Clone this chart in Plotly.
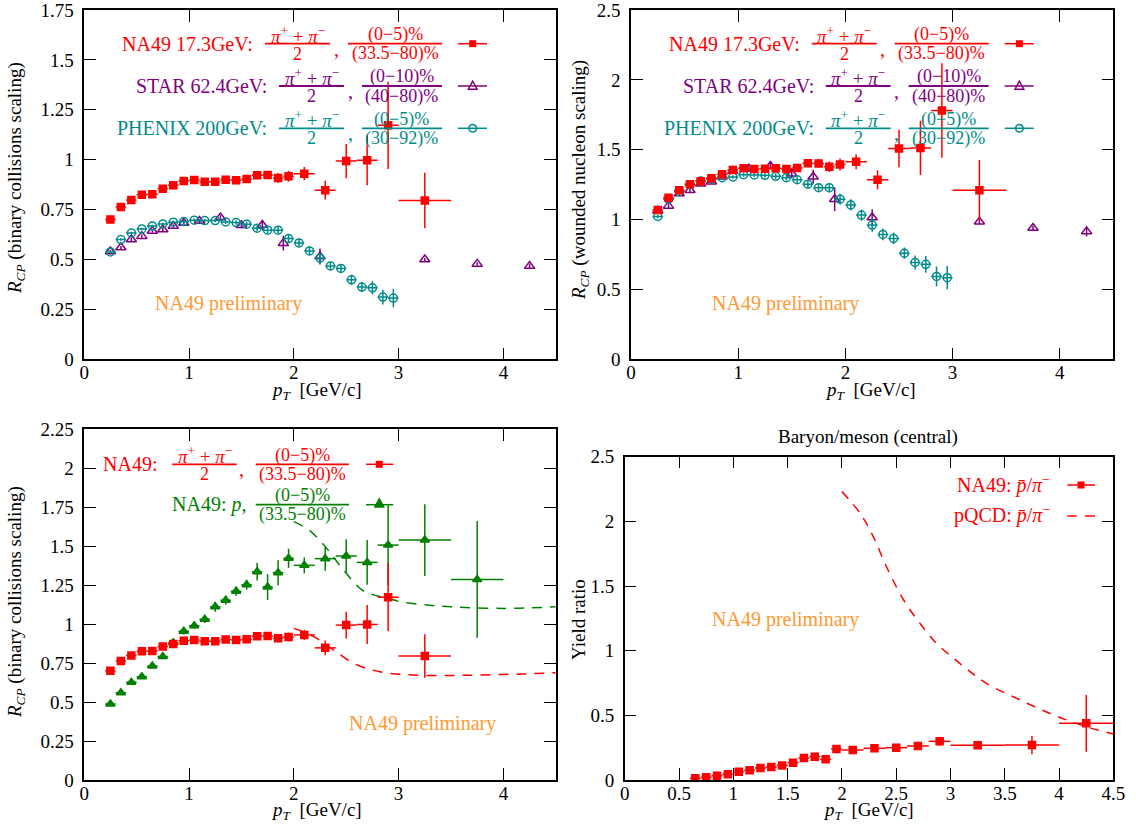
import plotly.graph_objects as go

W, H = 1136, 836
FONT = "Liberation Serif"
RED = "#ff0000"
PURPLE = "#800080"
TEAL = "#008b8b"
GREEN = "#008000"
ORANGE = "#ff9933"

# ---------------- data ----------------
# NA49 17.3 GeV charged pions
na49_pt = [0.25, 0.35, 0.45, 0.55, 0.65, 0.75, 0.85, 0.95, 1.05, 1.15, 1.25, 1.35,
           1.45, 1.55, 1.65, 1.75, 1.85, 1.95, 2.1, 2.3, 2.5, 2.7, 2.9, 3.25]
na49_pt_halfwidth = [0.05, 0.05, 0.05, 0.05, 0.05, 0.05, 0.05, 0.05, 0.05, 0.05, 0.05, 0.05,
                     0.05, 0.05, 0.05, 0.05, 0.05, 0.05, 0.1, 0.1, 0.1, 0.1, 0.1, 0.25]
na49_binary = [0.70, 0.763, 0.798, 0.825, 0.827, 0.855, 0.872, 0.893, 0.898, 0.89, 0.89, 0.90,
               0.897, 0.903, 0.922, 0.923, 0.908, 0.917, 0.93, 0.847, 0.993, 0.997, 1.172, 0.795]
na49_binary_err = [0.01, 0.01, 0.01, 0.01, 0.01, 0.01, 0.01, 0.012, 0.012, 0.012, 0.012, 0.012,
                   0.012, 0.015, 0.02, 0.02, 0.025, 0.028, 0.033, 0.047, 0.086, 0.125, 0.219, 0.139]
na49_wounded = [1.068, 1.157, 1.210, 1.253, 1.274, 1.295, 1.324, 1.354, 1.367, 1.362, 1.364, 1.367,
                1.362, 1.369, 1.404, 1.402, 1.378, 1.395, 1.414, 1.285, 1.509, 1.513, 1.781, 1.210]
na49_wounded_err = [0.015, 0.015, 0.015, 0.015, 0.015, 0.015, 0.015, 0.018, 0.018, 0.018, 0.018, 0.018,
                    0.018, 0.022, 0.03, 0.03, 0.038, 0.043, 0.054, 0.068, 0.134, 0.194, 0.338, 0.216]

# STAR 62.4 GeV
star_pt = [0.25, 0.35, 0.45, 0.55, 0.65, 0.75, 0.85, 0.95, 1.1, 1.3, 1.5, 1.7, 1.9, 2.25, 3.25, 3.75, 4.25]
star_binary = [0.54, 0.56, 0.60, 0.617, 0.643, 0.65, 0.668, 0.683, 0.693, 0.71, 0.672, 0.673,
               0.582, 0.515, 0.50, 0.478, 0.467]
star_binary_err = [0.008, 0.008, 0.008, 0.008, 0.008, 0.008, 0.008, 0.008, 0.01, 0.012, 0.015, 0.025,
                   0.037, 0.04, 0.008, 0.008, 0.012]
star_wounded = [1.063, 1.098, 1.186, 1.210, 1.257, 1.271, 1.307, 1.347, 1.364, 1.383, 1.328, 1.307,
                1.146, 1.015, 0.984, 0.940, 0.915]
star_wounded_err = [0.016, 0.016, 0.016, 0.016, 0.016, 0.016, 0.016, 0.016, 0.02, 0.024, 0.03, 0.05,
                    0.084, 0.059, 0.015, 0.015, 0.036]

# PHENIX 200 GeV
phenix_pt = [0.25, 0.35, 0.45, 0.55, 0.65, 0.75, 0.85, 0.95, 1.05, 1.15, 1.25, 1.35, 1.45, 1.55,
             1.65, 1.75, 1.85, 1.95, 2.05, 2.15, 2.25, 2.35, 2.45, 2.55, 2.65, 2.75, 2.85, 2.95]
phenix_pt_halfwidth = [0.05, 0.05, 0.05, 0.05, 0.05, 0.05, 0.05, 0.05, 0.05, 0.05, 0.05, 0.05, 0.05, 0.05,
                       0.05, 0.05, 0.05, 0.05, 0.05, 0.05, 0.05, 0.05, 0.05, 0.05, 0.05, 0.05, 0.05, 0.05]
phenix_binary = [0.538, 0.60, 0.633, 0.653, 0.668, 0.678, 0.687, 0.69, 0.697, 0.695, 0.695, 0.688, 0.685,
                 0.677, 0.657, 0.647, 0.647, 0.605, 0.583, 0.543, 0.507, 0.468, 0.455, 0.398, 0.362,
                 0.358, 0.312, 0.307]
phenix_binary_err = [0.006, 0.006, 0.006, 0.006, 0.006, 0.006, 0.007, 0.007, 0.008, 0.008, 0.009, 0.010,
                     0.011, 0.012, 0.014, 0.015, 0.017, 0.02, 0.021, 0.021, 0.025, 0.022, 0.022, 0.025,
                     0.025, 0.033, 0.037, 0.046]
phenix_wounded = [1.022, 1.146, 1.200, 1.250, 1.276, 1.290, 1.300, 1.305, 1.321, 1.319, 1.317, 1.310,
                  1.300, 1.285, 1.253, 1.228, 1.228, 1.146, 1.105, 1.032, 0.961, 0.894, 0.865, 0.759,
                  0.693, 0.680, 0.593, 0.584]
phenix_wounded_err = [0.012, 0.012, 0.012, 0.012, 0.012, 0.012, 0.013, 0.013, 0.015, 0.015, 0.017, 0.019,
                      0.021, 0.023, 0.027, 0.029, 0.033, 0.038, 0.04, 0.04, 0.048, 0.042, 0.042, 0.042,
                      0.05, 0.06, 0.071, 0.083]

# NA49 protons (binary scaling)
proton_pt = [0.25, 0.35, 0.45, 0.55, 0.65, 0.75, 0.85, 0.95, 1.05, 1.15, 1.25, 1.35, 1.45,
             1.55, 1.65, 1.75, 1.85, 1.95, 2.1, 2.3, 2.5, 2.7, 2.9, 3.25, 3.75]
proton_pt_halfwidth = [0.05, 0.05, 0.05, 0.05, 0.05, 0.05, 0.05, 0.05, 0.05, 0.05, 0.05, 0.05, 0.05,
                       0.05, 0.05, 0.05, 0.05, 0.05, 0.1, 0.1, 0.1, 0.1, 0.1, 0.25, 0.25]
proton_rcp = [0.487, 0.56, 0.626, 0.662, 0.731, 0.791, 0.88, 0.953, 0.989, 1.03, 1.111, 1.152, 1.21,
              1.252, 1.335, 1.237, 1.329, 1.421, 1.376, 1.419, 1.436, 1.395, 1.506, 1.538, 1.286]
proton_rcp_err = [0.012, 0.012, 0.014, 0.015, 0.016, 0.017, 0.018, 0.02, 0.02, 0.024, 0.032, 0.029, 0.03,
                  0.032, 0.056, 0.083, 0.08, 0.061, 0.051, 0.077, 0.107, 0.144, 0.256, 0.23, 0.374]

# model curves (dashed) in the lower-left panel
curve_p_pt = [2.0, 2.15, 2.3, 2.4, 2.5, 2.65, 2.8, 2.9, 3.0, 3.27, 3.5, 4.0, 4.5]
curve_p_rcp = [1.656, 1.60, 1.496, 1.41, 1.325, 1.218, 1.18, 1.165, 1.145, 1.122, 1.11, 1.10, 1.11]
curve_pi_pt = [2.0, 2.19, 2.38, 2.57, 2.82, 3.14, 3.5, 3.78, 4.2, 4.5]
curve_pi_rcp = [0.972, 0.919, 0.833, 0.748, 0.694, 0.673, 0.67, 0.673, 0.68, 0.688]

# Baryon/meson: pbar/pi-
pbar_pt = [0.65, 0.75, 0.85, 0.95, 1.05, 1.15, 1.25, 1.35, 1.45, 1.55, 1.65, 1.75, 1.85, 1.95,
           2.1, 2.3, 2.5, 2.7, 2.9, 3.25, 3.75, 4.25]
pbar_pt_halfwidth = [0.05, 0.05, 0.05, 0.05, 0.05, 0.05, 0.05, 0.05, 0.05, 0.05, 0.05, 0.05, 0.05, 0.05,
                     0.1, 0.1, 0.1, 0.1, 0.1, 0.25, 0.25, 0.25]
pbar_ratio = [0.013, 0.021, 0.033, 0.044, 0.064, 0.075, 0.093, 0.10, 0.113, 0.134, 0.17, 0.18, 0.16,
              0.24, 0.232, 0.245, 0.25, 0.263, 0.299, 0.268, 0.27, 0.438]
pbar_ratio_err = [0.005, 0.005, 0.006, 0.006, 0.007, 0.008, 0.009, 0.01, 0.01, 0.012, 0.014, 0.015, 0.015,
                  0.015, 0.015, 0.015, 0.017, 0.02, 0.036, 0.03, 0.07, 0.219]
pqcd_pt = [2.0, 2.17, 2.29, 2.41, 2.57, 2.72, 2.87, 3.03, 3.18, 3.33, 3.64, 3.95, 4.25, 4.5]
pqcd_ratio = [2.23, 2.06, 1.88, 1.65, 1.39, 1.21, 1.057, 0.94, 0.838, 0.748, 0.619, 0.503, 0.412, 0.356]

# tick labels
ticks_pt1 = [0, 1, 2, 3, 4]
ticks_pt1_text = ["0", "1", "2", "3", "4"]
ticks_pt05 = [0, 0.5, 1, 1.5, 2, 2.5, 3, 3.5, 4, 4.5]
ticks_pt05_text = ["0", "0.5", "1", "1.5", "2", "2.5", "3", "3.5", "4", "4.5"]
ticks_q = [0, 0.25, 0.5, 0.75, 1, 1.25, 1.5, 1.75, 2, 2.25]
ticks_q_text = ["0", "0.25", "0.5", "0.75", "1", "1.25", "1.5", "1.75", "2", "2.25"]
ticks_h = [0, 0.5, 1, 1.5, 2, 2.5]
ticks_h_text = ["0", "0.5", "1", "1.5", "2", "2.5"]

# ---------------- helpers ----------------
def px(x):
    return x / W


def py(y):
    return 1 - y / H


annotations = []
shapes = []


def text(x, y, s, color, size, xanchor="center", yanchor="middle", angle=0):
    annotations.append(dict(x=px(x), y=py(y), xref="paper", yref="paper", text=s, showarrow=False,
                            font=dict(family=FONT, size=size, color=color), xanchor=xanchor,
                            yanchor=yanchor, textangle=angle, borderpad=0))


def hline(x0, x1, y, color, width=2.0, dash=None):
    ln = dict(color=color, width=width)
    if dash:
        ln["dash"] = dash
    shapes.append(dict(type="line", xref="paper", yref="paper", x0=px(x0), x1=px(x1),
                       y0=py(y), y1=py(y), line=ln))


def sq(cx, cy, s, color):
    shapes.append(dict(type="rect", xref="paper", yref="paper", x0=px(cx - s / 2), x1=px(cx + s / 2),
                       y0=py(cy + s / 2), y1=py(cy - s / 2), fillcolor=color, line=dict(width=0)))


def tri(cx, cy, s, color, filled):
    pts = [(cx, cy - s * 0.6), (cx - s * 0.55, cy + s * 0.4), (cx + s * 0.55, cy + s * 0.4)]
    path = "M {} {} L {} {} L {} {} Z".format(*[v for p in pts for v in (px(p[0]), py(p[1]))])
    shapes.append(dict(type="path", xref="paper", yref="paper", path=path,
                       fillcolor=color if filled else "rgba(0,0,0,0)", line=dict(color=color, width=1.5)))


def circ(cx, cy, r, color):
    shapes.append(dict(type="circle", xref="paper", yref="paper", x0=px(cx - r), x1=px(cx + r),
                       y0=py(cy + r), y1=py(cy - r), line=dict(color=color, width=1.5),
                       fillcolor="rgba(0,0,0,0)"))


def frac(x0, x1, y, num, den, color, size=18, num_size=None):
    hline(x0, x1, y, color, 1.8)
    cx = (x0 + x1) / 2
    text(cx, y - 9, num, color, num_size or size)
    text(cx, y + 10, den, color, size)


PIPI = "<i>π</i><sup>+</sup>\u2005+\u2005<i>π</i><sup>−</sup>"

# ---------------- figure ----------------
fig = go.Figure()


def err_trace(x, y, ex, ey, color, symbol, size, xa, ya):
    tr = go.Scatter(x=x, y=y, mode="markers", xaxis=xa, yaxis=ya, showlegend=False,
                    marker=dict(symbol=symbol, size=size, color=color, line=dict(color=color, width=1.5)),
                    error_y=dict(type="data", array=ey, visible=True, color=color, thickness=1.5, width=0))
    if ex is not None:
        tr.error_x = dict(type="data", array=ex, visible=True, color=color, thickness=1.5, width=0)
    return tr


# panel 1 : binary scaling
fig.add_trace(err_trace(star_pt, star_binary, None, star_binary_err, PURPLE, "triangle-up-open", 9, "x", "y"))
fig.add_trace(err_trace(phenix_pt, phenix_binary, phenix_pt_halfwidth, phenix_binary_err, TEAL, "circle-open", 8, "x", "y"))
fig.add_trace(err_trace(na49_pt, na49_binary, na49_pt_halfwidth, na49_binary_err, RED, "square", 7, "x", "y"))

# panel 2 : wounded nucleon scaling
fig.add_trace(err_trace(star_pt, star_wounded, None, star_wounded_err, PURPLE, "triangle-up-open", 9, "x2", "y2"))
fig.add_trace(err_trace(phenix_pt, phenix_wounded, phenix_pt_halfwidth, phenix_wounded_err, TEAL, "circle-open", 8, "x2", "y2"))
fig.add_trace(err_trace(na49_pt, na49_wounded, na49_pt_halfwidth, na49_wounded_err, RED, "square", 7, "x2", "y2"))

# panel 3 : pions and protons
fig.add_trace(go.Scatter(x=curve_p_pt, y=curve_p_rcp, mode="lines", xaxis="x3", yaxis="y3", showlegend=False,
                         line=dict(color=GREEN, width=1.5, dash="10px,8px", shape="spline")))
fig.add_trace(go.Scatter(x=curve_pi_pt, y=curve_pi_rcp, mode="lines", xaxis="x3", yaxis="y3", showlegend=False,
                         line=dict(color=RED, width=1.5, dash="10px,8px", shape="spline")))
fig.add_trace(err_trace(proton_pt, proton_rcp, proton_pt_halfwidth, proton_rcp_err, GREEN, "triangle-up", 8, "x3", "y3"))
fig.add_trace(err_trace(na49_pt, na49_binary, na49_pt_halfwidth, na49_binary_err, RED, "square", 7, "x3", "y3"))

# panel 4 : baryon / meson
fig.add_trace(go.Scatter(x=pqcd_pt, y=pqcd_ratio, mode="lines", xaxis="x4", yaxis="y4", showlegend=False,
                         line=dict(color=RED, width=1.5, dash="9px,8px", shape="spline")))
fig.add_trace(err_trace(pbar_pt, pbar_ratio, pbar_pt_halfwidth, pbar_ratio_err, RED, "square", 7, "x4", "y4"))

# ---------------- axes ----------------
def axis(domain, rng, tv, tt, anchor, standoff):
    return dict(domain=domain, range=rng, tickvals=tv, ticktext=tt, anchor=anchor,
                showline=True, mirror="ticks", linecolor="black", linewidth=1.5,
                ticks="inside", ticklen=12, tickwidth=1.3, tickcolor="black",
                showgrid=False, zeroline=False, ticklabelstandoff=standoff, automargin=False,
                ticklabeloverflow="allow",
                tickfont=dict(family=FONT, size=19, color="black"), fixedrange=True)


# pixel geometry of the four panels
P1 = dict(x0=84.2, x1=555.8, y0=359.3, y1=10.0)
P2 = dict(x0=631.0, x1=1113.4, y0=359.3, y1=10.0)
P3 = dict(x0=84.2, x1=555.8, y0=780.0, y1=429.0)
P4 = dict(x0=624.7, x1=1113.4, y0=780.0, y1=456.7)


def dx(p):
    return [px(p["x0"]), px(p["x1"])]


def dy(p):
    return [py(p["y0"]), py(p["y1"])]


XS = -5
YS = 5
fig.update_layout(
    xaxis=axis(dx(P1), [0, 4.5], ticks_pt1, ticks_pt1_text, "y", XS),
    yaxis=axis(dy(P1), [0, 1.75], ticks_q[:8], ticks_q_text[:8], "x", YS),
    xaxis2=axis(dx(P2), [0, 4.5], ticks_pt1, ticks_pt1_text, "y2", XS),
    yaxis2=axis(dy(P2), [0, 2.5], ticks_h, ticks_h_text, "x2", YS),
    xaxis3=axis(dx(P3), [0, 4.5], ticks_pt1, ticks_pt1_text, "y3", XS),
    yaxis3=axis(dy(P3), [0, 2.25], ticks_q, ticks_q_text, "x3", YS),
    xaxis4=axis(dx(P4), [0, 4.5], ticks_pt05, ticks_pt05_text, "y4", XS),
    yaxis4=axis(dy(P4), [0, 2.5], ticks_h, ticks_h_text, "x4", YS),
)

# ---------------- texts ----------------
PT = "<i>p</i><sub><i>T</i></sub>\u2002[GeV/c]"
RCP = "<i>R</i><sub><i>CP</i></sub>"
text(316, 391, PT, "black", 19)
text(870, 391, PT, "black", 19)
text(316, 811, PT, "black", 19)
text(868, 811, PT, "black", 19)
text(16, 178, RCP + "\u00a0(binary collisions scaling)", "black", 19, angle=-90)
text(580, 180, RCP + "\u00a0(wounded nucleon scaling)", "black", 19, angle=-90)
text(16, 602, RCP + "\u00a0(binary collisions scaling)", "black", 19, angle=-90)
text(578, 620, "Yield ratio", "black", 19, angle=-90)
text(868, 437, "Baryon/meson (central)", "black", 19)

PRELIM = "NA49 preliminary"
text(228, 303, PRELIM, ORANGE, 20)
text(785, 303, PRELIM, ORANGE, 20)
text(422, 723, PRELIM, ORANGE, 20)
text(785, 619, PRELIM, ORANGE, 20)

# ---------------- legends (drawn) ----------------
def top_legend(off):
    # row 1 NA49
    y = 43.7
    text(254 + off, y, "NA49 17.3GeV:", RED, 20, xanchor="right")
    frac(265 + off, 330 + off, y, PIPI, "2", RED, num_size=19)
    text(336 + off, y + 5, ",", RED, 20)
    frac(348 + off, 442 + off, y, "(0−5)%", "(33.5−80)%", RED)
    hline(458 + off, 487 + off, y, RED, 1.5)
    sq(472.7 + off, y, 7, RED)
    # row 2 STAR
    y = 86.0
    text(268 + off, y, "STAR 62.4GeV:", PURPLE, 20, xanchor="right")
    frac(279 + off, 344 + off, y, PIPI, "2", PURPLE, num_size=19)
    text(350 + off, y + 5, ",", PURPLE, 20)
    frac(362 + off, 442 + off, y, "(0−10)%", "(40−80)%", PURPLE)
    hline(458 + off, 487 + off, y, PURPLE, 1.5)
    tri(472.7 + off, y, 8, PURPLE, False)
    # row 3 PHENIX
    y = 128.3
    text(268 + off, y, "PHENIX 200GeV:", TEAL, 20, xanchor="right")
    frac(279 + off, 344 + off, y, PIPI, "2", TEAL, num_size=19)
    text(350 + off, y + 5, ",", TEAL, 20)
    frac(362 + off, 442 + off, y, "(0−5)%", "(30−92)%", TEAL)
    hline(458 + off, 487 + off, y, TEAL, 1.5)
    circ(472.7 + off, y, 3.8, TEAL)


top_legend(0)
top_legend(546.7)

# lower-left legend
y = 464.3
text(158.3, y, "NA49:", RED, 20, xanchor="right")
frac(172.3, 236.7, y, PIPI, "2", RED, num_size=19)
text(241.7, y + 5, ",", RED, 20)
frac(255.7, 349, y, "(0−5)%", "(33.5−80)%", RED)
hline(366, 393.3, y, RED, 1.5)
sq(379.3, y, 7, RED)
y = 504.7
text(246.7, y, "NA49: <i>p</i>,", GREEN, 20, xanchor="right")
frac(255.7, 349, y, "(0−5)%", "(33.5−80)%", GREEN)
hline(366, 393.3, y, GREEN, 1.5)
tri(379.3, y - 1, 8, GREEN, True)

# lower-right legend
PBAR = "<i>p\u0304</i>/<i>π</i><sup>−</sup>"
text(1050.7, 485, "NA49: " + PBAR, RED, 20, xanchor="right")
hline(1067.3, 1095, 485, RED, 1.5)
sq(1081, 485, 7, RED)
text(1050.7, 514, "pQCD: " + PBAR, RED, 20, xanchor="right")
hline(1067.3, 1076.7, 516, RED, 1.5)
hline(1085, 1095, 516, RED, 1.5)

fig.update_layout(
    width=W, height=H, margin=dict(l=0, r=0, t=0, b=0, autoexpand=False),
    paper_bgcolor="white", plot_bgcolor="white",
    showlegend=False, annotations=annotations, shapes=shapes,
    font=dict(family=FONT, size=19, color="black"),
)

fig.write_html("out.html", config={"displayModeBar": False},
               post_script="document.body.style.margin='0px';")
